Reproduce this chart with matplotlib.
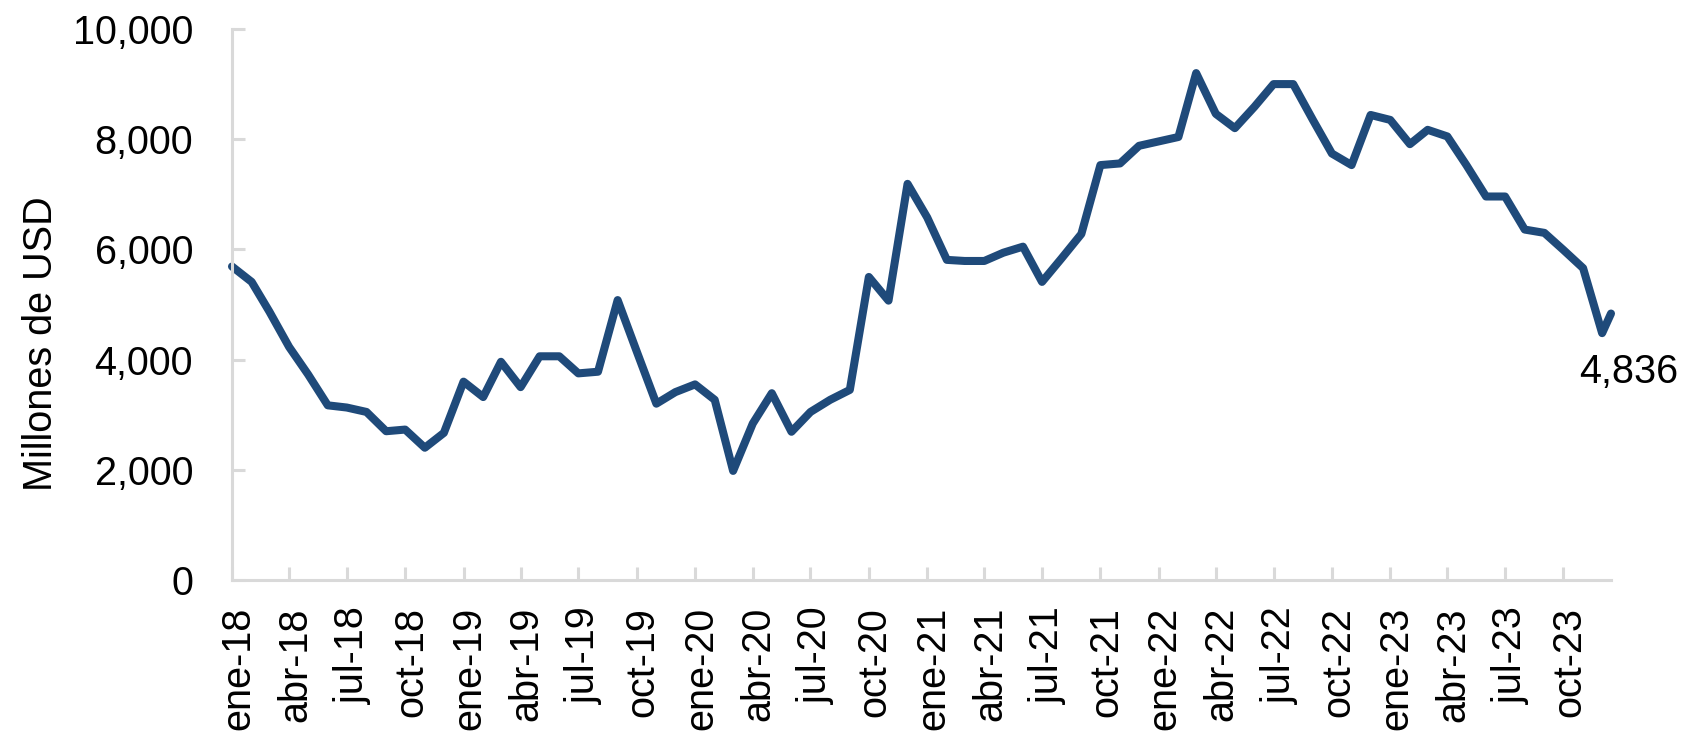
# exportaciones mensuales, millones de USD (ene-18 a dic-23)

import matplotlib.pyplot as plt
import matplotlib.transforms as mtransforms
import pandas as pd

plt.rcParams['font.family'] = ['Liberation Sans', 'DejaVu Sans']

# fechas: inicio de cada mes + un ultimo dato a mitad de diciembre 2023
fechas = list(pd.date_range('2018-01-01', '2023-12-01', freq='MS')) + [pd.Timestamp('2023-12-15')]

valores = [
    5690, 5410, 4870, 4230, 3730, 3170, 3130, 3050, 2700, 2730, 2400, 2670,   # 2018
    3600, 3320, 3960, 3500, 4060, 4060, 3750, 3780, 5080, 4150, 3200, 3410,   # 2019
    3550, 3270, 1980, 2840, 3390, 2690, 3050, 3270, 3450, 5500, 5070, 7190,   # 2020
    6580, 5810, 5790, 5790, 5940, 6050, 5410, 5840, 6280, 7530, 7560, 7880,   # 2021
    7960, 8040, 9200, 8460, 8200, 8590, 9000, 9000, 8350, 7740, 7530, 8440,   # 2022
    8350, 7910, 8170, 8050, 7530, 6960, 6960, 6360, 6300, 5990, 5660, 4480,   # 2023
    4836,
]

fechas_ticks = pd.date_range('2018-01-01', '2023-10-01', freq='3MS')
etiquetas_x = [
    'ene-18', 'abr-18', 'jul-18', 'oct-18',
    'ene-19', 'abr-19', 'jul-19', 'oct-19',
    'ene-20', 'abr-20', 'jul-20', 'oct-20',
    'ene-21', 'abr-21', 'jul-21', 'oct-21',
    'ene-22', 'abr-22', 'jul-22', 'oct-22',
    'ene-23', 'abr-23', 'jul-23', 'oct-23',
]
ticks_y = [0, 2000, 4000, 6000, 8000, 10000]

color_linea = '#1f4a7a'
color_eje = '#d9d9d9'
tam = 28.5

fig = plt.figure(figsize=(16.89, 7.4), dpi=100)
ax = fig.add_axes([232/1689, 1 - 580/740, (1611 - 232)/1689, (580 - 29)/740])

ax.plot(fechas, valores, color=color_linea, lw=5.8,
        solid_joinstyle='round', solid_capstyle='round', clip_on=False)

# etiqueta del ultimo valor
ax.annotate(f'{valores[-1]:,.0f}', xy=(fechas[-1], valores[-1]),
            xytext=(13, -50), textcoords='offset points',
            ha='center', va='baseline', fontsize=tam, color='black')

ax.set_ylim(0, 10000)
ax.set_xlim(fechas[0], fechas[-1])
ax.set_yticks(ticks_y)
ax.set_yticklabels([f'{v:,}' for v in ticks_y])
ax.set_xticks(fechas_ticks)
ax.set_xticklabels(etiquetas_x, rotation=90)

for lado in ['top', 'right']:
    ax.spines[lado].set_visible(False)
for lado in ['left', 'bottom']:
    ax.spines[lado].set_color(color_eje)
    ax.spines[lado].set_linewidth(2.2)

ax.tick_params(axis='y', direction='in', length=9.4, width=2.2, color=color_eje,
               labelsize=tam, pad=28)
ax.tick_params(axis='x', direction='in', length=9.4, width=2.2, color=color_eje,
               labelsize=tam, pad=19.5)

# pequeno corrimiento de las etiquetas del eje x
desplazar = mtransforms.ScaledTranslation(6/100, 0, fig.dpi_scale_trans)
for etiqueta in ax.get_xticklabels():
    etiqueta.set_transform(etiqueta.get_transform() + desplazar)

ax.set_ylabel('Millones de USD', fontsize=tam)
ax.yaxis.set_label_coords(-0.1244, 0.428)

fig.savefig('out.png', dpi=100)
